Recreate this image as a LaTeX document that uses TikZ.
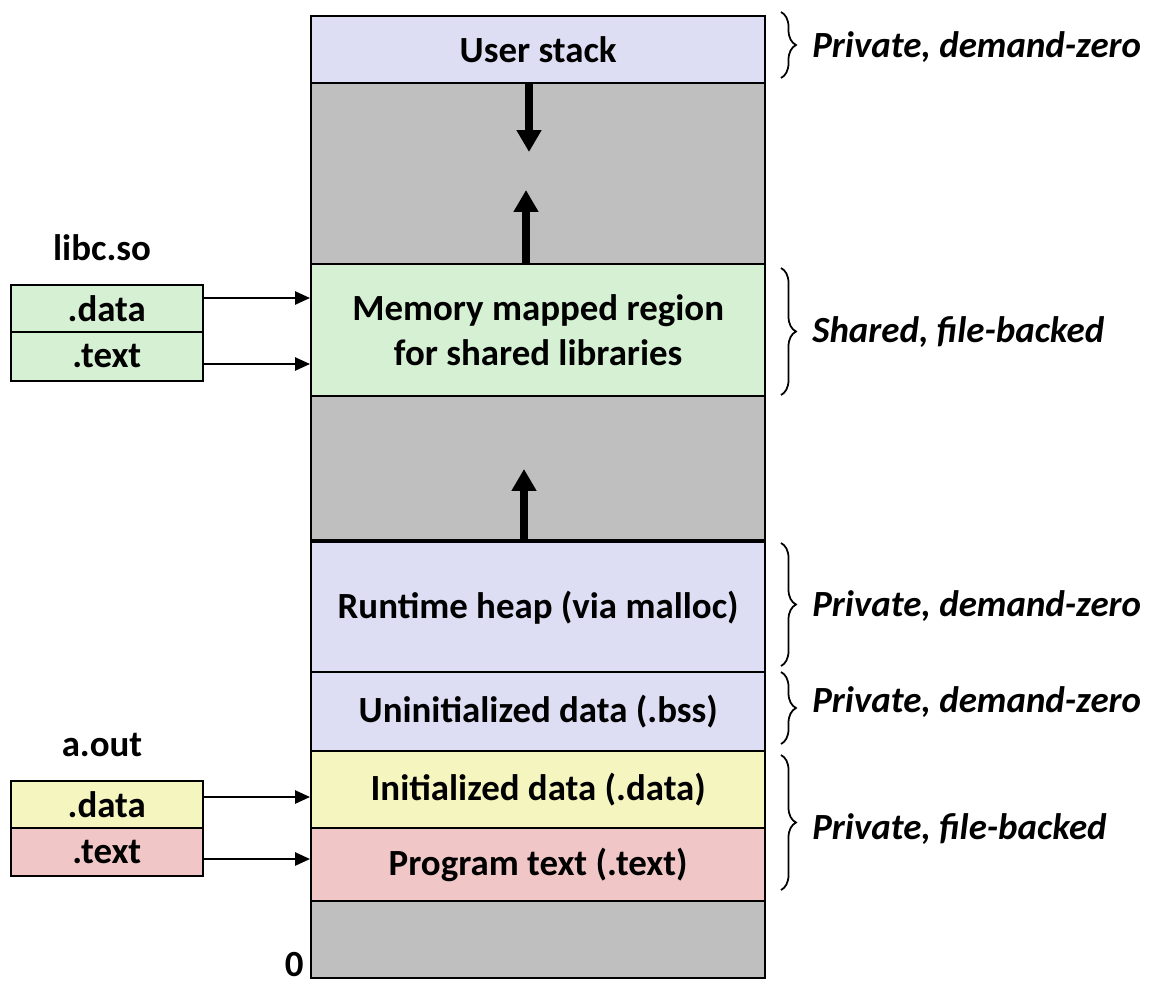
\documentclass[tikz,border=0pt]{standalone}
\usepackage{fontspec}
\setmainfont{Carlito}
\usetikzlibrary{arrows.meta,decorations.pathreplacing}
\definecolor{lav}{RGB}{221,221,243}
\definecolor{gapg}{RGB}{191,191,191}
\definecolor{grn}{RGB}{213,240,211}
\definecolor{yel}{RGB}{245,245,192}
\definecolor{pnk}{RGB}{241,198,198}
\begin{document}
\begin{tikzpicture}[x=0.02cm,y=-0.02cm,
  region/.style={draw, line width=1.4pt, font=\bfseries\fontsize{21}{26}\selectfont, align=center, inner sep=0pt, minimum width=9.08cm, anchor=north west},
  filebox/.style={draw, line width=0.9pt, font=\bfseries\fontsize{21}{24}\selectfont, inner sep=0pt, minimum width=3.84cm, anchor=north west},
  title/.style={font=\bfseries\fontsize{21}{24}\selectfont},
  kind/.style={font=\bfseries\itshape\fontsize{21}{24}\selectfont, anchor=west, inner sep=0pt},
  brc/.style={decorate, decoration={brace, amplitude=0.3cm}, line width=1pt},
  thinarrow/.style={line width=1.1pt, -{Triangle[length=8.5pt,width=7.5pt]}},
  bigarrow/.style={line width=4pt, -{Triangle[length=12.5pt,width=13.5pt]}}]
\useasboundingbox (0,0) rectangle (1149,985);
% main column
\node[region, fill=lav,  minimum height=1.34cm] (us)   at (310,15)  {User stack};
\node[region, fill=gapg, minimum height=3.62cm] (gap1) at (310,82)  {};
\node[region, fill=grn,  minimum height=2.64cm] (mm)   at (310,263) {Memory mapped region\\for shared libraries};
\node[region, fill=gapg, minimum height=2.92cm] (gap2) at (310,395) {};
\node[region, fill=lav,  minimum height=2.60cm] (heap) at (310,541) {Runtime heap (via malloc)};
\node[region, fill=lav,  minimum height=1.58cm] (bss)  at (310,671) {Uninitialized data (.bss)};
\node[region, fill=yel,  minimum height=1.54cm] (idat) at (310,750) {Initialized data (.data)};
\node[region, fill=pnk,  minimum height=1.46cm] (ptxt) at (310,827) {Program text (.text)};
\node[region, fill=gapg, minimum height=1.54cm] (gap3) at (310,900) {};
\draw[line width=2.6pt] (heap.north west) -- (heap.north east);
\node[title, anchor=south east, inner sep=0pt] (zero) at (304,977) {0};
% growth arrows
\coordinate (dtip) at (529,152);
\coordinate (utip) at (526,190);
\coordinate (htip) at (524,469);
\draw[bigarrow] (us.south -| dtip) -- (dtip);
\draw[bigarrow] (mm.north -| utip) -- (utip);
\draw[bigarrow] (heap.north -| htip) -- (htip);
% libc.so
\node[title] (libc) at (102,248) {libc.so};
\node[filebox, fill=grn, minimum height=0.94cm] (ld) at (10,284) {.data};
\node[filebox, fill=grn, minimum height=0.98cm] (lt) at (10,331) {.text};
\coordinate (la1) at (0,298);
\coordinate (la2) at (0,364);
\draw[thinarrow] (ld.east |- la1) -- (mm.west |- la1);
\draw[thinarrow] (lt.east |- la2) -- (mm.west |- la2);
% a.out
\node[title] (aout) at (102,745) {a.out};
\node[filebox, fill=yel, minimum height=0.94cm] (ad) at (10,780) {.data};
\node[filebox, fill=pnk, minimum height=0.96cm] (at) at (10,827) {.text};
\coordinate (aa1) at (0,797);
\coordinate (aa2) at (0,859);
\draw[thinarrow] (ad.east |- aa1) -- (idat.west |- aa1);
\draw[thinarrow] (at.east |- aa2) -- (ptxt.west |- aa2);
% braces and labels
\coordinate (b1t) at (781,12);  \coordinate (b1b) at (781,78);
\coordinate (b2t) at (781,268); \coordinate (b2b) at (781,395);
\coordinate (b3t) at (781,543); \coordinate (b3b) at (781,666);
\coordinate (b4t) at (781,672); \coordinate (b4b) at (781,744);
\coordinate (b5t) at (781,755); \coordinate (b5b) at (781,890);
\draw[brc] (b1t) -- (b1b);
\draw[brc] (b2t) -- (b2b);
\draw[brc] (b3t) -- (b3b);
\draw[brc] (b4t) -- (b4b);
\draw[brc] (b5t) -- (b5b);
\node[kind] (k1) at (812,47)  {Private, demand-zero};
\node[kind] (k2) at (812,332) {Shared, file-backed};
\node[kind] (k3) at (812,606) {Private, demand-zero};
\node[kind] (k4) at (812,702) {Private, demand-zero};
\node[kind] (k5) at (812,829) {Private, file-backed};
\end{tikzpicture}
\end{document}
